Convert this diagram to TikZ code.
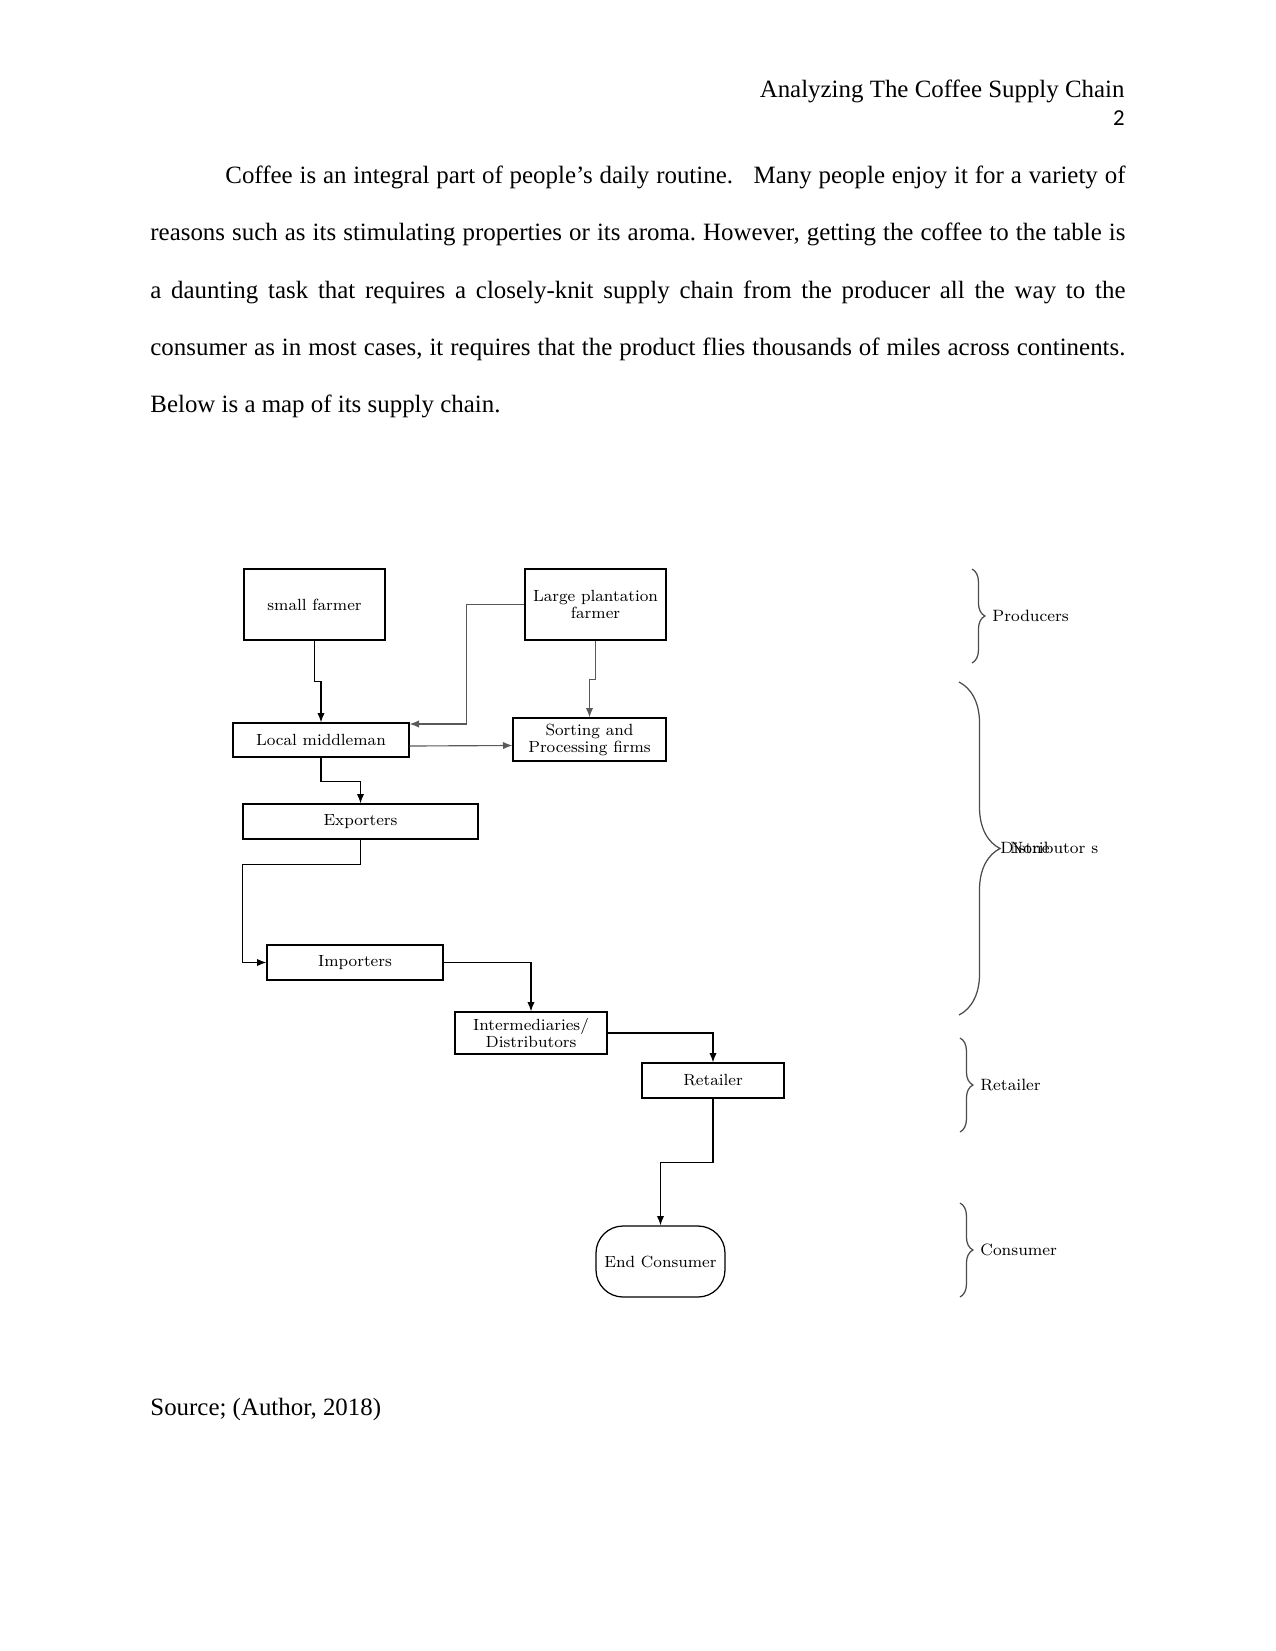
\documentclass[tikz,border=0pt]{standalone}
\usepackage{fontspec}
\setmainfont{Liberation Serif}
\newfontfamily\diagfont{Latin Modern Roman}
\newfontfamily\pagefont{Carlito}
\usetikzlibrary{arrows.meta,calc,decorations.pathreplacing}
\frenchspacing

\begin{document}
\begin{tikzpicture}[x=0.48bp,y=-0.48bp,
  box/.style={draw,line width=0.6pt,inner sep=1pt,align=center,font=\diagfont\fontsize{7.8}{8.2}\selectfont},
  sz/.style 2 args={minimum width=#1*0.48bp,minimum height=#2*0.48bp},
  arr/.style={line width=0.55pt,-{Latex[length=4.5bp,width=3.5bp]}},
  grarr/.style={arr,black!65},
  grp/.style={decorate,decoration={brace,amplitude=#1},line width=0.6pt,black!70},
  side/.style={anchor=base west,inner sep=0pt,font=\diagfont\fontsize{7.9}{8.2}\selectfont},
  body/.style={anchor=base west,inner sep=0pt,font=\fontsize{12}{14}\selectfont}]
\useasboundingbox (0,0) rectangle (1275,1651);

% page head
\node[anchor=base east,inner sep=0pt,font=\fontsize{12}{14}\selectfont] (title) at (1125,97) {Analyzing The Coffee Supply Chain};
\node[anchor=base east,inner sep=0pt,font=\pagefont\fontsize{11}{13}\selectfont] (page) at (1125,125) {2};

% text
\node[body] (l1) at (150,183) {\makebox[6.5in][s]{\hspace*{0.5in}Coffee is an integral part of people’s daily routine.~~~Many people enjoy it for a variety of}};
\node[body] (l2) at (150,240) {\makebox[6.5in][s]{reasons such as its stimulating properties or its aroma. However, getting the coffee to the table is}};
\node[body] (l3) at (150,298) {\makebox[6.5in][s]{a daunting task that requires a closely-knit supply chain from the producer all the way to the}};
\node[body] (l4) at (150,355) {\makebox[6.5in][s]{consumer as in most cases, it requires that the product flies thousands of miles across continents.}};
\node[body] (l5) at (150,412) {Below is a map of its supply chain.};

% chain
\node[box,sz={141}{71}] (small) at (314.5,604.5) {small farmer};
\node[box,sz={141}{71}] (large) at (595.5,604.5) {Large plantation\\farmer};
\node[box,sz={176}{34}] (local) at (321,740) {Local middleman};
\node[box,sz={153}{43}] (sort) at (589.5,739.5) {Sorting and\\Processing firms};
\node[box,sz={235}{35}] (exp) at (360.5,821.5) {Exporters};
\node[box,sz={176}{35}] (imp) at (355,962.5) {Importers};
\node[box,sz={152}{42}] (inter) at (531,1033) {Intermediaries/\\Distributors};
\node[box,sz={142}{35}] (ret) at (713,1080.5) {Retailer};
\node[box,sz={129}{71},rounded corners=13bp] (endc) at (660.5,1261.5) {End Consumer};

\draw[arr] (small.south) -- ++(0,41) -| (local.north);
\draw[grarr] (large.west) -- ++(-58,0) |- ($(local.east)+(0,-16)$);
\draw[grarr] (large.south) -- ++(0,39) -| (sort.north);
\draw[grarr] ($(local.east)+(0,6)$) -- ($(sort.west)+(0,6)$);
\draw[arr] (local.south) -- ++(0,24) -| (exp.north);
\draw[arr] (exp.south) -- ++(0,25) -| ($(imp.west)+(-24,0)$) -- (imp.west);
\draw[arr] (imp.east) -| (inter.north);
\draw[arr] (inter.east) -| (ret.north);
\draw[arr] (ret.south) -- ++(0,64) -| (endc.north);

% stages
\draw[grp=6.2bp] (972,569) -- (972,663);
\draw[grp=19.7bp] (959,682) -- (959,1015);
\draw[grp=6.2bp] (960,1038) -- (960,1132);
\draw[grp=6.2bp] (960,1203) -- (960,1297);
\node[side] (prod) at (992,621) {Producers};
\node[side] (dist) at (1000,853) {Distributor s};
\node[side] (none) at (1010,853) {None};
\node[side] (retl) at (980,1090) {Retailer};
\node[side] (cons) at (980,1255) {Consumer};

\node[body] (src) at (150,1415) {Source; (Author, 2018)};
\end{tikzpicture}
\end{document}
